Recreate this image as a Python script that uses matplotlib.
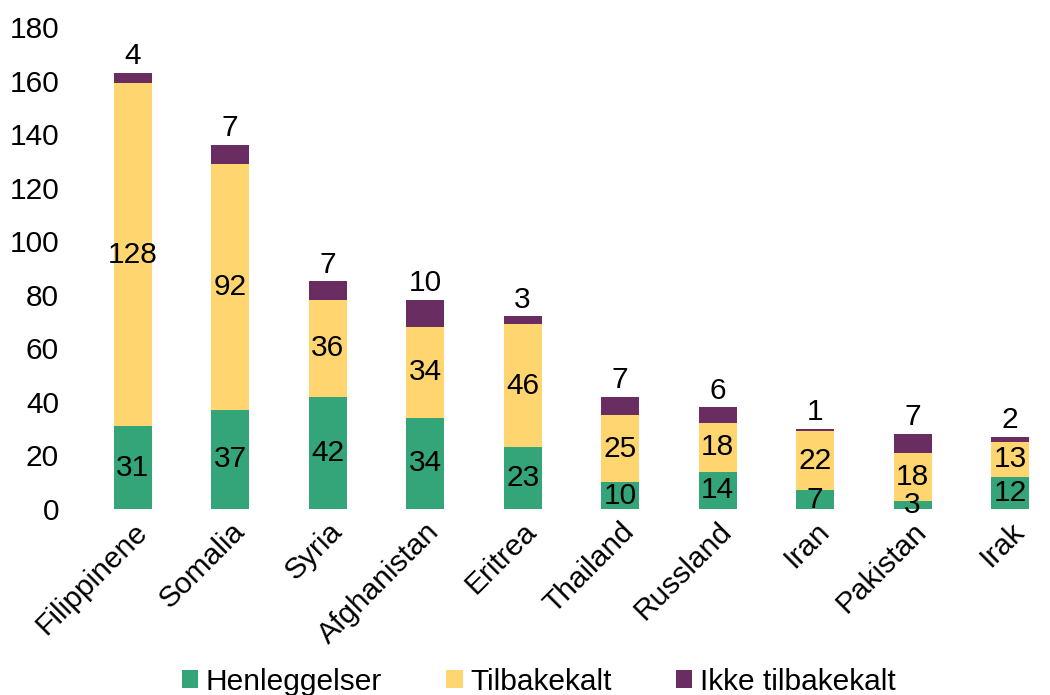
import numpy as np
import matplotlib.pyplot as plt

plt.rcParams["font.family"] = ["Liberation Sans", "DejaVu Sans"]

countries = ["Filippinene", "Somalia", "Syria", "Afghanistan", "Eritrea",
             "Thailand", "Russland", "Iran", "Pakistan", "Irak"]
henleggelser = [31, 37, 42, 34, 23, 10, 14, 7, 3, 12]
tilbakekalt = [128, 92, 36, 34, 46, 25, 18, 22, 18, 13]
ikke_tilbakekalt = [4, 7, 7, 10, 3, 7, 6, 1, 7, 2]

green = "#33A578"
yellow = "#FFD56F"
purple = "#6A2D62"

fig = plt.figure(figsize=(10.5, 6.95), dpi=100)
ax = fig.add_axes([0.08, 0.2676, 0.92, 0.6935])

x = np.arange(len(countries))
h = np.array(henleggelser)
t = np.array(tilbakekalt)
k = np.array(ikke_tilbakekalt)
w = 0.39

b1 = ax.bar(x, h, w, color=green, label="Henleggelser")
b2 = ax.bar(x, t, w, bottom=h, color=yellow, label="Tilbakekalt")
b3 = ax.bar(x, k, w, bottom=h + t, color=purple, label="Ikke tilbakekalt")

fs = 21.5
for i in range(len(x)):
    ax.text(x[i], h[i] / 2, str(h[i]), ha="center", va="center", fontsize=fs)
    ax.text(x[i], h[i] + t[i] / 2, str(t[i]), ha="center", va="center", fontsize=fs)
    ax.text(x[i], h[i] + t[i] + k[i] + 1.0, str(k[i]), ha="center", va="bottom", fontsize=fs)

ax.set_xlim(-0.5, 9.41)
ax.set_ylim(0, 180)
ax.set_yticks(range(0, 181, 20))
ax.set_xticks(x)
ax.set_xticklabels(countries, rotation=45, ha="right", rotation_mode="anchor", fontsize=fs)
ax.tick_params(axis="y", labelsize=fs, length=0, pad=18)
ax.tick_params(axis="x", length=0, pad=6)
for s in ax.spines.values():
    s.set_visible(False)

fig.legend(handles=[b1, b2, b3], loc="lower center", bbox_to_anchor=(0.513, -0.04),
           ncol=3, frameon=False, fontsize=fs, handlelength=0.55, handleheight=0.55,
           handletextpad=0.25, columnspacing=2.15)

fig.savefig("out.png", dpi=100)
